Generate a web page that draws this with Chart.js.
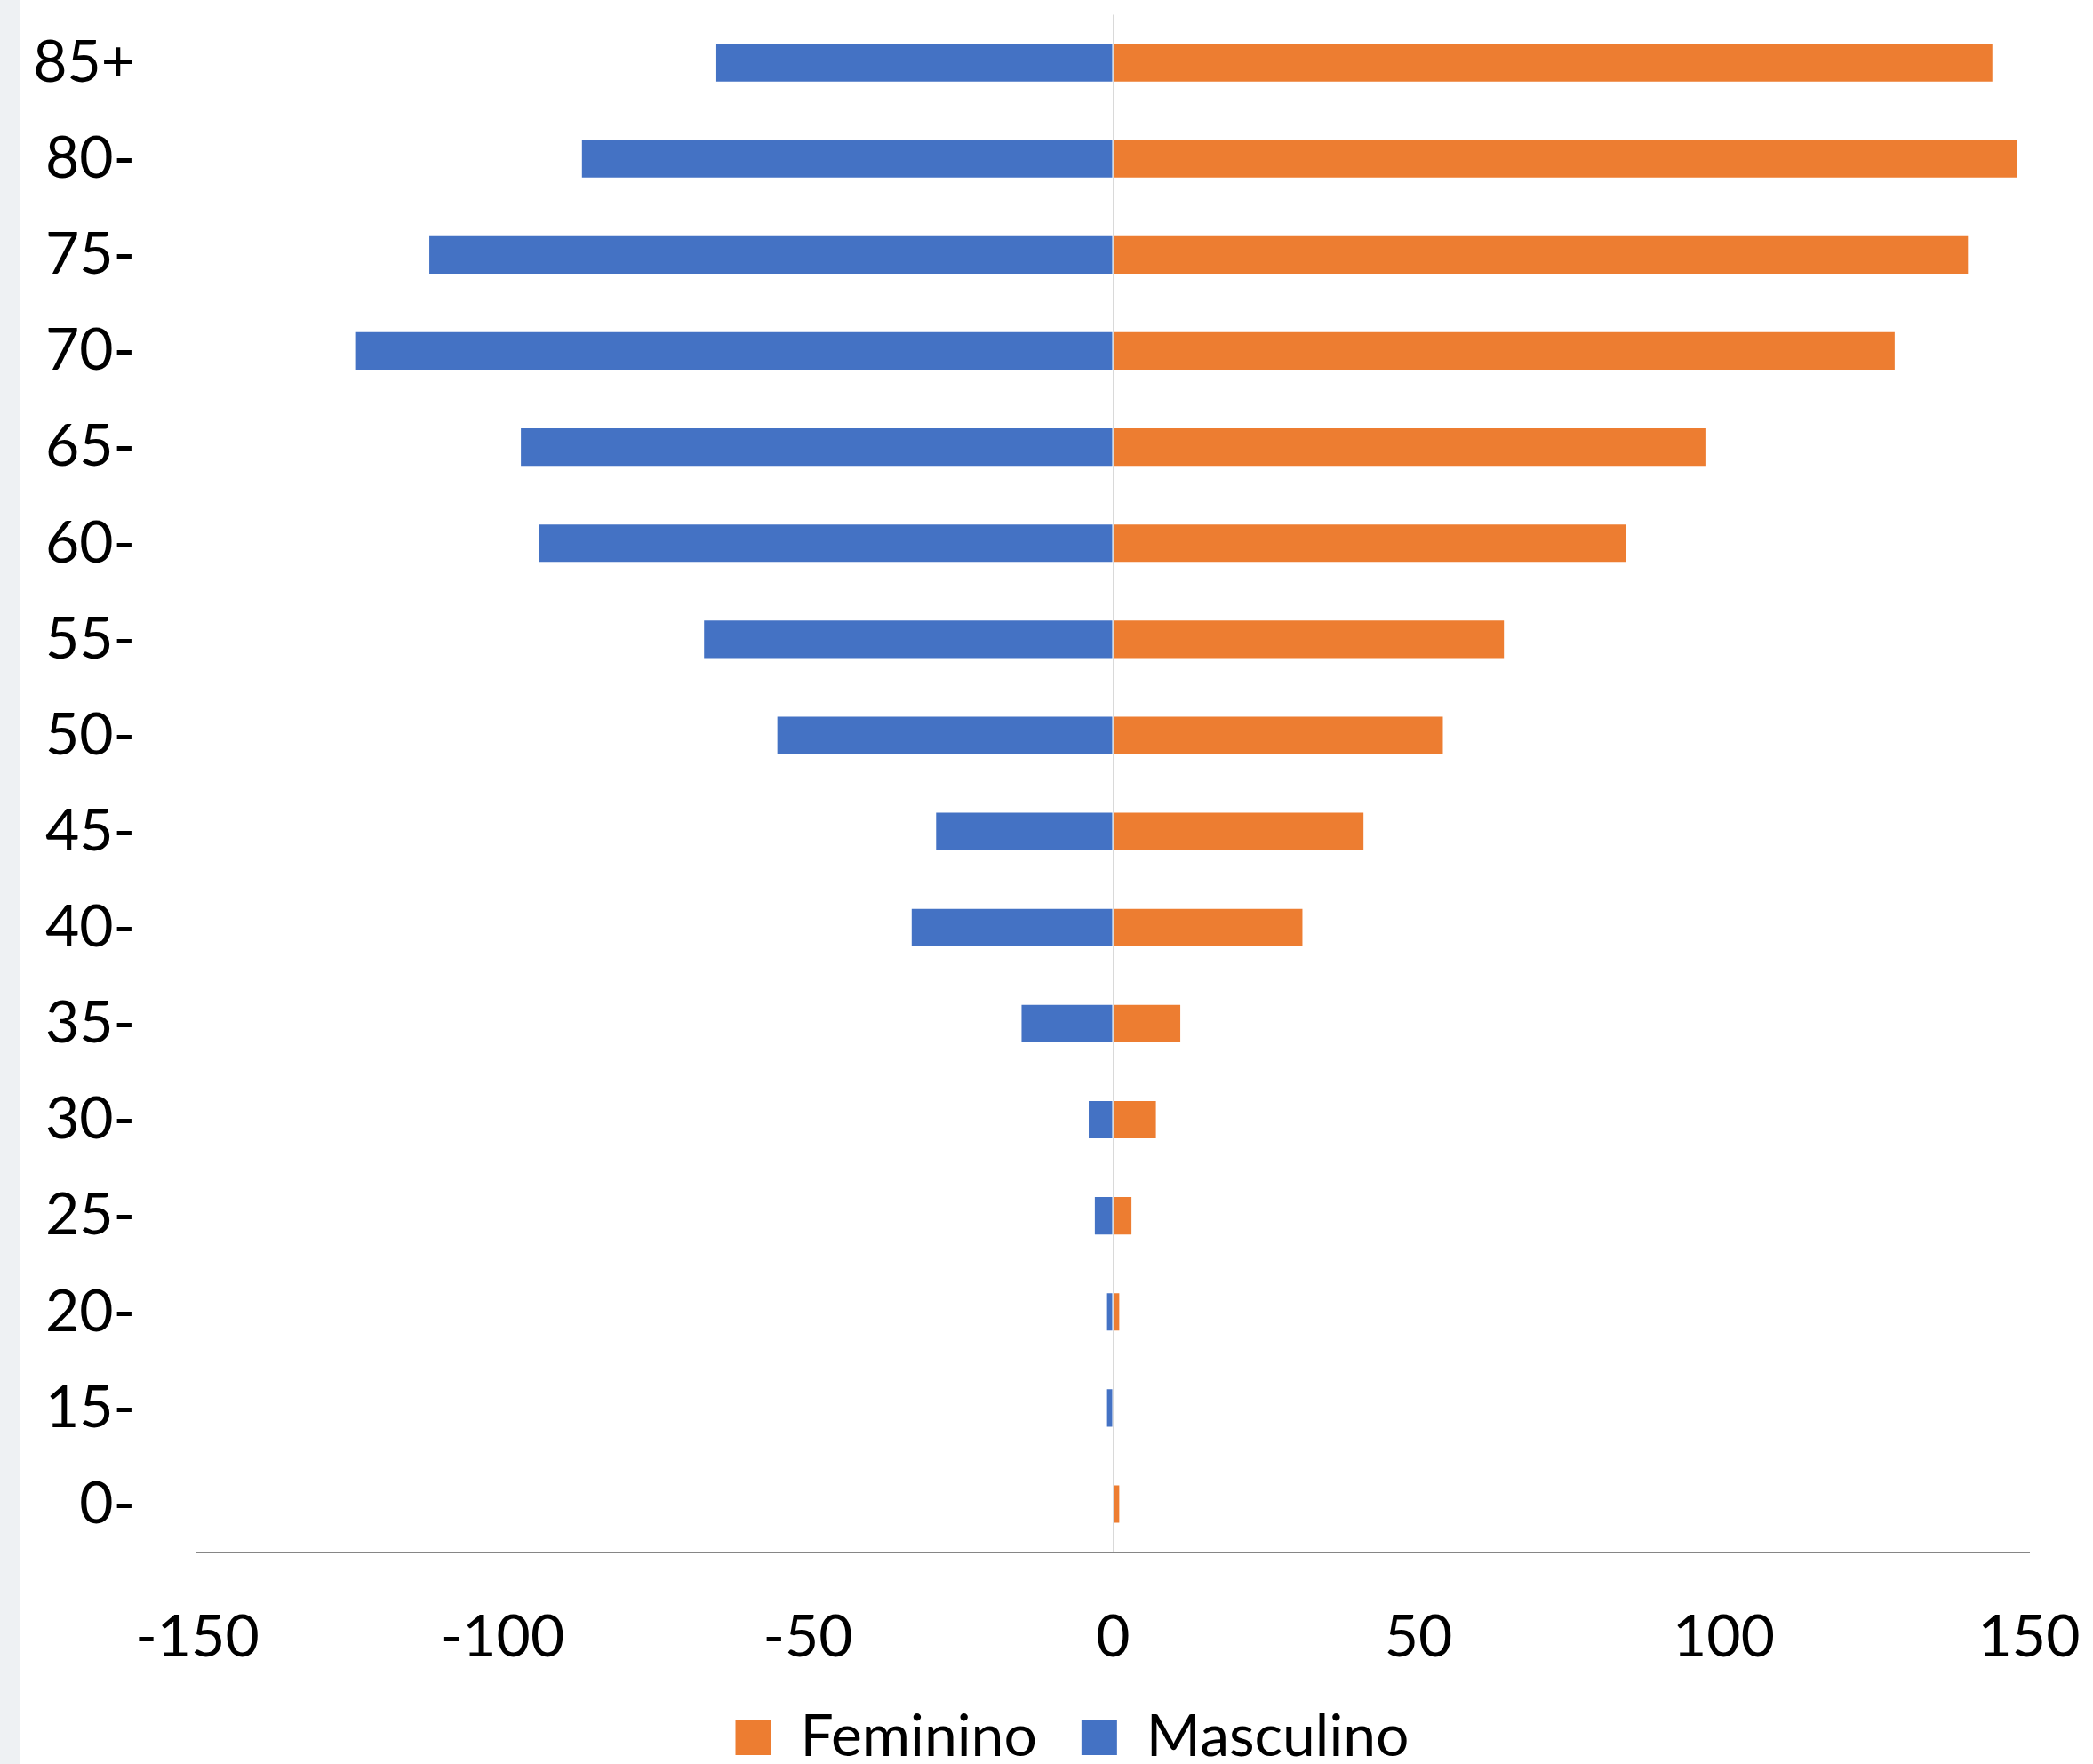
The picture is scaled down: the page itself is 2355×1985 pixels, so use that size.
<!DOCTYPE html>
<html>
<head>
<meta charset="utf-8">
<script src="https://cdn.jsdelivr.net/npm/chart.js@4"></script>
<style>
  html, body { margin: 0; padding: 0; background: #fff; }
  #strip { position: absolute; left: 0; top: 0; width: 22px; height: 1985px; background: #eef1f3; }
  #wrap { position: absolute; left: 0; top: 0; width: 2355px; height: 1985px; }
</style>
</head>
<body>
<div id="strip"></div>
<div id="wrap"><canvas id="chart"></canvas></div>
<script>
const ageGroups = ['85+', '80-', '75-', '70-', '65-', '60-', '55-', '50-', '45-', '40-', '35-', '30-', '25-', '20-', '15-', '0-'];
const feminino = [144, 148, 140, 128, 97, 84, 64, 54, 41, 31, 11, 7, 3, 1, 0, 1];
const masculino = [-65, -87, -112, -124, -97, -94, -67, -55, -29, -33, -15, -4, -3, -1, -1, 0];
const xTicks = [-150, -100, -50, 0, 50, 100, 150];

// legend in the original sits a bit right of the canvas centre
const legendShift = {
    id: 'legendShift',
    afterLayout(chart) {
        chart.legend.left += 50;
        chart.legend.right += 50;
    }
};

const ctx = document.getElementById('chart').getContext('2d');
new Chart(ctx, {
    type: 'bar',
    data: {
        labels: ageGroups,
        datasets: [
            { label: 'Feminino', data: feminino, backgroundColor: '#ED7D31', categoryPercentage: 1, barPercentage: 0.39 },
            { label: 'Masculino', data: masculino, backgroundColor: '#4472C4', categoryPercentage: 1, barPercentage: 0.39 }
        ]
    },
    options: {
        indexAxis: 'y',
        responsive: true,
        maintainAspectRatio: false,
        animation: false,
        layout: { padding: { left: 30, right: 72, top: 16, bottom: -13 } },
        scales: {
            x: {
                stacked: true,
                min: xTicks[0],
                max: xTicks[xTicks.length - 1],
                ticks: { stepSize: 50, font: { family: 'Lato', size: 66, lineHeight: 0.9 }, color: '#000', padding: 0 },
                grid: {
                    drawTicks: true,
                    tickLength: 66,
                    tickColor: 'rgba(0,0,0,0)',
                    lineWidth: 2,
                    color: c => c.tick && c.tick.value === 0 ? '#d9d9d9' : 'rgba(0,0,0,0)'
                },
                border: { color: '#868686', width: 2 }
            },
            y: {
                stacked: true,
                ticks: { font: { family: 'Lato', size: 66, lineHeight: 0.5 }, color: '#000', padding: 0 },
                grid: { display: false, drawTicks: true, tickLength: 70 },
                border: { display: false },
                afterFit: s => { s.width = 192; }
            }
        },
        plugins: {
            legend: {
                position: 'bottom',
                labels: { font: { family: 'Lato', size: 66 }, color: '#000', boxWidth: 40, boxHeight: 40, padding: 50 }
            },
            tooltip: { enabled: false }
        }
    },
    plugins: [legendShift]
});
</script>
</body>
</html>
